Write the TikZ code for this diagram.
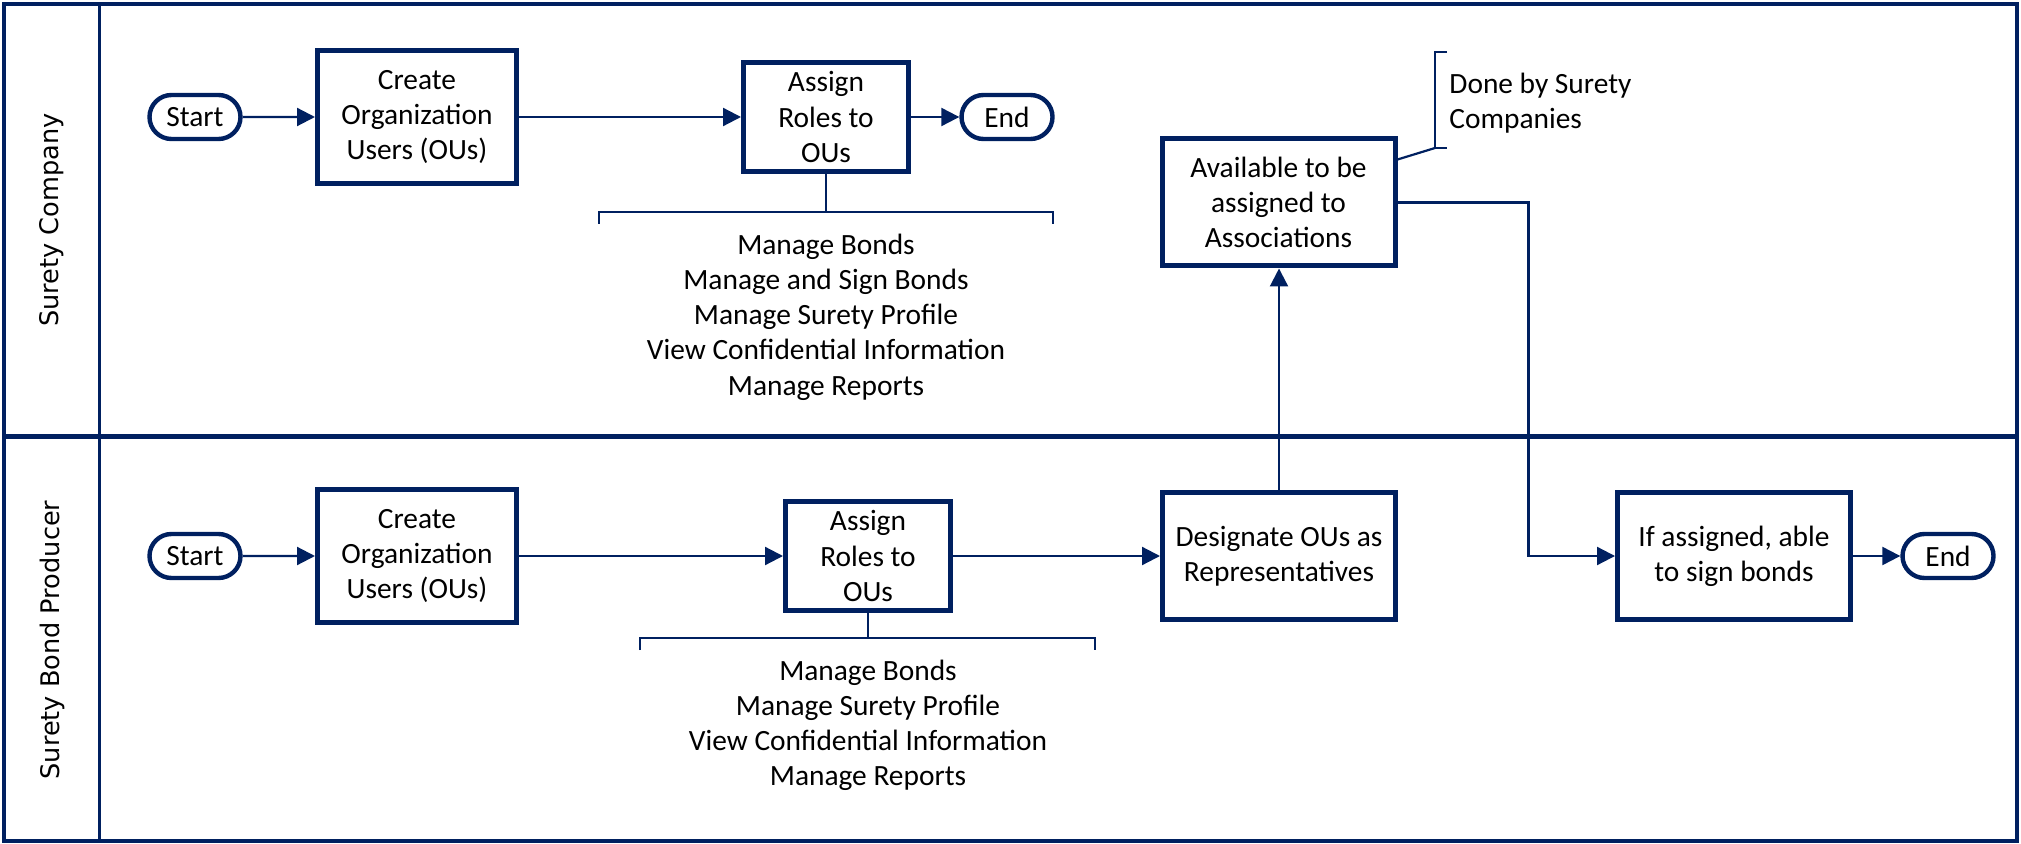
\documentclass[tikz,border=0pt]{standalone}
\usepackage{fontspec}
\setmainfont{Carlito}
\newfontfamily\lanefont{DejaVu Sans}
\usetikzlibrary{arrows.meta,shapes.misc,calc}
\definecolor{navy}{HTML}{002060}

\begin{document}
\begin{tikzpicture}[x=0.5pt,y=-0.5pt,
  boxtext/.style={font=\fontsize{14.7}{17.6}\selectfont, align=center, text=black},
  procbox/.style={boxtext, draw=navy, line width=2.5pt, fill=white, inner sep=0pt},
  bigbox/.style={procbox, minimum width=116.5pt, minimum height=63.5pt},
  createbox/.style={procbox, minimum width=99.5pt, minimum height=66.5pt},
  assignbox/.style={procbox, minimum width=82.5pt, minimum height=54.5pt},
  term/.style={boxtext, rounded rectangle, draw=navy, line width=2.2pt, fill=white,
               inner sep=0pt, minimum width=45.5pt, minimum height=22pt},
  flow/.style={draw=navy, line width=1.1pt, -{Triangle[length=9pt,width=9pt]}},
  brk/.style={draw=navy, line width=1.1pt},
  roles/.style={boxtext, inner sep=0pt},
  lanelabel/.style={font=\lanefont\fontsize{12.8}{15}\selectfont, rotate=90, text=black},
]
\useasboundingbox (0,0) rectangle (2021,844);

% swimlane frame
\draw[navy, line width=2pt] (4,4) rectangle (2017,841);
\draw[navy, line width=1.8pt] (99.5,4) -- (99.5,841);
\draw[navy, line width=2.5pt] (4,436) -- (2017,436);

\node[lanelabel] (laneA) at (52,220) {Surety Company};
\node[lanelabel] (laneB) at (52,640) {Surety Bond Producer};

% upper lane
\node[term] (startA) at (195,117) {Start};
\node[createbox] (createA) at (417,117) {Create\\Organization\\Users (OUs)};
\node[assignbox] (assignA) at (826,117) {Assign\\Roles to\\OUs};
\node[term] (endA) at (1007,117) {End};
\node[bigbox] (availA) at (1278.5,202.5) {Available to be\\assigned to\\Associations};

\draw[flow] (startA) -- (createA);
\draw[flow] (createA) -- (assignA);
\draw[flow] (assignA) -- (endA);

\coordinate (brAl) at (599,212);
\coordinate (brAr) at (1053,212);
\draw[brk] (assignA.south) -- (assignA.south |- brAl);
\draw[brk] ($(brAl)+(0,12)$) -- (brAl) -- (brAr) -- ($(brAr)+(0,12)$);
\node[roles] (rolesA) at (826,317) {Manage Bonds\\Manage and Sign Bonds\\Manage Surety Profile\\View Confidential Information\\Manage Reports};

% note on the associations box
\coordinate (annTop) at (1435,52);
\coordinate (annFoot) at (1435,148);
\draw[brk] ($(annTop)+(12,0)$) -- (annTop) -- (annFoot) -- ($(annFoot)+(12,0)$);
\draw[brk] ($(availA.east)+(0,-43)$) -- (annFoot);
\node[boxtext, align=left, anchor=west, inner sep=0pt] (annText) at (1449,103) {Done by Surety\\Companies};

% lower lane
\node[term] (startB) at (195,556) {Start};
\node[createbox] (createB) at (417,556) {Create\\Organization\\Users (OUs)};
\node[assignbox] (assignB) at (868,556) {Assign\\Roles to\\OUs};
\node[bigbox] (desB) at (1279,556) {Designate OUs as\\Representatives};
\node[bigbox] (ifB) at (1734,556) {If assigned, able\\to sign bonds};
\node[term] (endB) at (1948,556) {End};

\draw[flow] (startB) -- (createB);
\draw[flow] (createB) -- (assignB);
\draw[flow] (assignB) -- (desB);
\draw[flow] (ifB) -- (endB);
\draw[flow] (desB.north) -- (desB.north |- availA.south);

\coordinate (jog) at (1528.5,202.5);
\draw[flow] (availA.east) -- (availA.east -| jog) |- (ifB.west);

\coordinate (brBl) at (640,638);
\coordinate (brBr) at (1095,638);
\draw[brk] (assignB.south) -- (assignB.south |- brBl);
\draw[brk] ($(brBl)+(0,12)$) -- (brBl) -- (brBr) -- ($(brBr)+(0,12)$);
\node[roles] (rolesB) at (868,725.5) {Manage Bonds\\Manage Surety Profile\\View Confidential Information\\Manage Reports};
\end{tikzpicture}
\end{document}
